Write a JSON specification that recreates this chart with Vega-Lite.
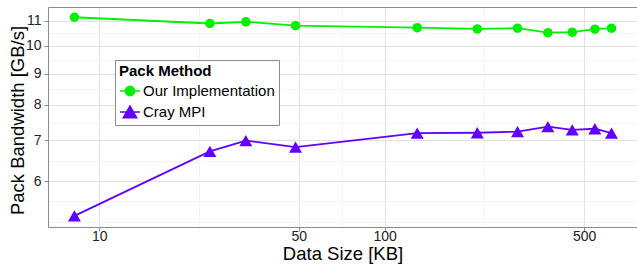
{
  "$schema": "https://vega.github.io/schema/vega-lite/v6.json",
  "autosize": "none",
  "padding": {"left": 48, "top": 7, "right": 0, "bottom": 39},
  "width": 589,
  "height": 220,
  "background": "white",
  "config": {
    "view": {"stroke": null},
    "font": "Liberation Sans",
    "axis": {"labelFont": "Liberation Sans", "titleFont": "Liberation Sans"}
  },
  "data": {
    "values": [
      {"size": 8.18, "bw": 11.14, "method": "Our Implementation"},
      {"size": 24.4, "bw": 10.88, "method": "Our Implementation"},
      {"size": 32.6, "bw": 10.95, "method": "Our Implementation"},
      {"size": 48.7, "bw": 10.79, "method": "Our Implementation"},
      {"size": 130, "bw": 10.71, "method": "Our Implementation"},
      {"size": 211, "bw": 10.66, "method": "Our Implementation"},
      {"size": 292, "bw": 10.69, "method": "Our Implementation"},
      {"size": 373, "bw": 10.51, "method": "Our Implementation"},
      {"size": 454, "bw": 10.53, "method": "Our Implementation"},
      {"size": 545, "bw": 10.65, "method": "Our Implementation"},
      {"size": 623, "bw": 10.69, "method": "Our Implementation"},
      {"size": 8.18, "bw": 5.26, "method": "Cray MPI"},
      {"size": 24.4, "bw": 6.71, "method": "Cray MPI"},
      {"size": 32.6, "bw": 6.99, "method": "Cray MPI"},
      {"size": 48.7, "bw": 6.82, "method": "Cray MPI"},
      {"size": 130, "bw": 7.19, "method": "Cray MPI"},
      {"size": 211, "bw": 7.2, "method": "Cray MPI"},
      {"size": 292, "bw": 7.23, "method": "Cray MPI"},
      {"size": 373, "bw": 7.37, "method": "Cray MPI"},
      {"size": 454, "bw": 7.28, "method": "Cray MPI"},
      {"size": 545, "bw": 7.31, "method": "Cray MPI"},
      {"size": 623, "bw": 7.19, "method": "Cray MPI"}
    ]
  },
  "encoding": {
    "color": {
      "field": "method",
      "type": "nominal",
      "scale": {"domain": ["Our Implementation", "Cray MPI"], "range": ["#00f000", "#6200ff"]},
      "legend": {
        "orient": "none",
        "legendX": 67,
        "legendY": 53,
        "title": "Pack Method",
        "titleFont": "Liberation Sans",
        "titleFontSize": 15,
        "titleFontWeight": "bold",
        "titleColor": "#000000",
        "titlePadding": 1,
        "labelFont": "Liberation Sans",
        "labelFontSize": 15,
        "labelColor": "#000000",
        "labelOffset": 2,
        "padding": 4,
        "rowPadding": 2,
        "strokeColor": "#8c8c8c",
        "fillColor": "white",
        "symbolType": "M-1,0H1M-0.46,0A0.46,0.46 0 1,0 0.46,0A0.46,0.46 0 1,0 -0.46,0Z",
        "symbolSize": 400,
        "symbolStrokeWidth": 1.6,
        "encode": {
          "symbols": {
            "update": {
              "shape": {"signal": "datum.value === 'Cray MPI' ? 'M-1,0H1M0,-0.58L0.66,0.56L-0.66,0.56Z' : 'M-1,0H1M-0.46,0A0.46,0.46 0 1,0 0.46,0A0.46,0.46 0 1,0 -0.46,0Z'"},
              "size": {"value": 400},
              "fill": {"signal": "datum.value === 'Cray MPI' ? '#6200ff' : '#00f000'"},
              "stroke": {"signal": "datum.value === 'Cray MPI' ? '#6200ff' : '#00f000'"},
              "strokeWidth": {"value": 1.6},
              "opacity": {"value": 1}
            }
          }
        }
      }
    }
  },
  "layer": [
    {
      "mark": {"type": "line", "strokeWidth": 1.8},
      "encoding": {
        "x": {
          "field": "size", "type": "quantitative",
          "scale": {"type": "log", "domain": [6.61, 765.5], "nice": false},
          "axis": {
            "values": [10, 50, 100, 500],
            "format": "d",
            "title": "Data Size [KB]",
            "titleFontSize": 18.5, "titleFontWeight": "normal", "titleColor": "#000000",
            "titleBaseline": "alphabetic", "titleX": 294.5, "titleY": 32, "titleAnchor": null,
            "labelFontSize": 14, "labelColor": "#222222", "labelPadding": -2,
            "tickSize": 4, "tickColor": "#8c8c8c",
            "domainColor": "#8c8c8c", "domainWidth": 1,
            "grid": true, "gridColor": "#e2e2e2", "gridWidth": 1
          }
        },
        "y": {
          "field": "bw", "type": "quantitative",
          "scale": {"type": "log", "domain": [5.043, 11.58], "nice": false, "zero": false},
          "axis": {
            "values": [6, 7, 8, 9, 10, 11],
            "format": "d",
            "title": "Pack Bandwidth [GB/s]",
            "titleFontSize": 18.5, "titleFontWeight": "normal", "titleColor": "#000000",
            "titleBaseline": "alphabetic", "titleX": -25, "titleY": 113, "titleAngle": -90,
            "labelFontSize": 14, "labelColor": "#222222", "labelPadding": 3,
            "tickSize": 4, "tickColor": "#8c8c8c",
            "domainColor": "#8c8c8c", "domainWidth": 1,
            "grid": true, "gridColor": "#e2e2e2", "gridWidth": 1
          }
        }
      }
    },
    {
      "mark": {"type": "point", "filled": true, "opacity": 1},
      "encoding": {
        "x": {
          "field": "size", "type": "quantitative",
          "axis": {
            "orient": "top",
            "values": [22.36, 70.71, 223.6],
            "title": null, "labels": false, "ticks": false,
            "domain": true, "domainColor": "#8c8c8c", "domainWidth": 1,
            "grid": true, "gridColor": "#f1f1f1", "gridWidth": 0.8
          }
        },
        "y": {
          "field": "bw", "type": "quantitative",
          "axis": {
            "orient": "left",
            "values": [5.143, 5.555, 6.481, 7.483, 8.485, 9.487, 10.488],
            "title": null, "labels": false, "ticks": false, "domain": false,
            "grid": true, "gridColor": "#f1f1f1", "gridWidth": 0.8
          }
        },
        "shape": {"condition": {"test": "datum.method === 'Cray MPI'", "value": "triangle-up"}, "value": "circle"},
        "size": {"condition": {"test": "datum.method === 'Cray MPI'", "value": 170}, "value": 90}
      }
    }
  ],
  "resolve": {"axis": {"x": "independent", "y": "independent"}}
}
